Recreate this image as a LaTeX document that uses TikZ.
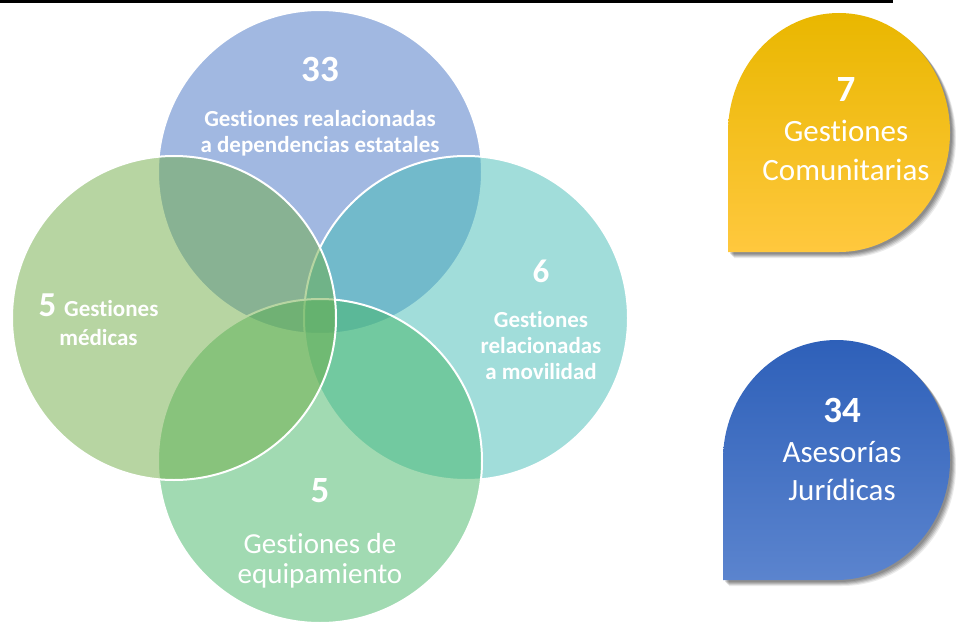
\documentclass[tikz,border=0pt]{standalone}
\usepackage{fontspec}
\setmainfont{Carlito}[Ligatures=NoCommon]
\definecolor{topblue}{HTML}{4472C4}
\definecolor{rightteal}{HTML}{45BDB7}
\definecolor{botgreen}{HTML}{45B767}
\definecolor{leftgreen}{HTML}{70AD47}
\definecolor{ytop}{HTML}{E9B700}
\definecolor{ymid}{HTML}{FFC30A}
\definecolor{ybot}{HTML}{FFC83E}
\definecolor{btop}{HTML}{2E60B9}
\definecolor{bmid}{HTML}{3A6CC4}
\definecolor{bbot}{HTML}{5B84CE}
\begin{document}
\begin{tikzpicture}[x=1pt,y=-1pt,
  circ/.style={fill opacity=0.5, draw=white, draw opacity=1, line width=2},
  lbl/.style={text=white, anchor=base, inner sep=0pt},
  bignum/.style={lbl, font=\bfseries\fontsize{37}{40}\selectfont},
  boldtxt/.style={lbl, font=\bfseries\fontsize{23}{26}\selectfont},
  regtxt/.style={lbl, font=\fontsize{29}{32}\selectfont},
  droptxt/.style={lbl, font=\fontsize{31}{34}\selectfont}]
\useasboundingbox (0,0) rectangle (956,623);
\fill[white] (0,0) rectangle (956,623);
% top rule
\fill[black] (0,0) rectangle (893,3);
% circles
\coordinate (ct) at (320,172);
\coordinate (cr) at (466,318);
\coordinate (cb) at (320,461);
\coordinate (cl) at (174,318);
\path[circ, fill=topblue] (ct) circle[radius=162];
\path[circ, fill=rightteal] (cr) circle[radius=162];
\path[circ, fill=botgreen] (cb) circle[radius=162];
\path[circ, fill=leftgreen] (cl) circle[radius=162];
% circle texts
\node[bignum] (t33) at (320,82) {33};
\node[boldtxt] (t1a) at (320,127) {Gestiones realacionadas};
\node[boldtxt] (t1b) at (320,153) {a dependencias estatales};
\node[lbl] (t5a) at (98.5,316) {\bfseries\fontsize{35}{38}\selectfont 5 \fontsize{23}{26}\selectfont Gestiones};
\node[boldtxt] (t5b) at (98.5,345) {médicas};
\node[lbl, font=\bfseries\fontsize{33}{36}\selectfont] (t6) at (541,282) {6};
\node[boldtxt] (t6a) at (541,327) {Gestiones};
\node[boldtxt] (t6b) at (541,353) {relacionadas};
\node[boldtxt] (t6c) at (541,379) {a movilidad};
\node[bignum] (tb5) at (320,502) {5};
\node[regtxt] (tba) at (320,553) {Gestiones de};
\node[regtxt] (tbb) at (320,583) {equipamiento};
% drop shadows
\foreach \s/\o in {2/0.12,3/0.12,4/0.12,5/0.1,6/0.08}{
  \fill[black, opacity=\o, shift={(\s,\s)}] (728,252) -- (728,132.5) .. controls (728,66.5) and (777.7,13) .. (839,13) .. controls (900.3,13) and (950,66.5) .. (950,132.5) .. controls (950,198.5) and (900.3,252) .. (839,252) -- cycle;
  \fill[black, opacity=\o, shift={(\s,\s)}] (723,580) -- (723,460) .. controls (723,393.7) and (773.8,340) .. (836.5,340) .. controls (899.2,340) and (950,393.7) .. (950,460) .. controls (950,526.3) and (899.2,580) .. (836.5,580) -- cycle;
}
\shade[top color=ytop, middle color=ymid, bottom color=ybot] (728,252) -- (728,132.5) .. controls (728,66.5) and (777.7,13) .. (839,13) .. controls (900.3,13) and (950,66.5) .. (950,132.5) .. controls (950,198.5) and (900.3,252) .. (839,252) -- cycle;
\shade[top color=btop, middle color=bmid, bottom color=bbot] (723,580) -- (723,460) .. controls (723,393.7) and (773.8,340) .. (836.5,340) .. controls (899.2,340) and (950,393.7) .. (950,460) .. controls (950,526.3) and (899.2,580) .. (836.5,580) -- cycle;
% drop texts
\node[bignum] (y7) at (846,102) {7};
\node[droptxt] (y1) at (846,142) {Gestiones};
\node[droptxt] (y2) at (846,180) {Comunitarias};
\node[bignum] (b34) at (842,422) {34};
\node[droptxt] (b1) at (842,462) {Asesorías};
\node[droptxt] (b2) at (842,500) {Jurídicas};
\end{tikzpicture}
\end{document}
